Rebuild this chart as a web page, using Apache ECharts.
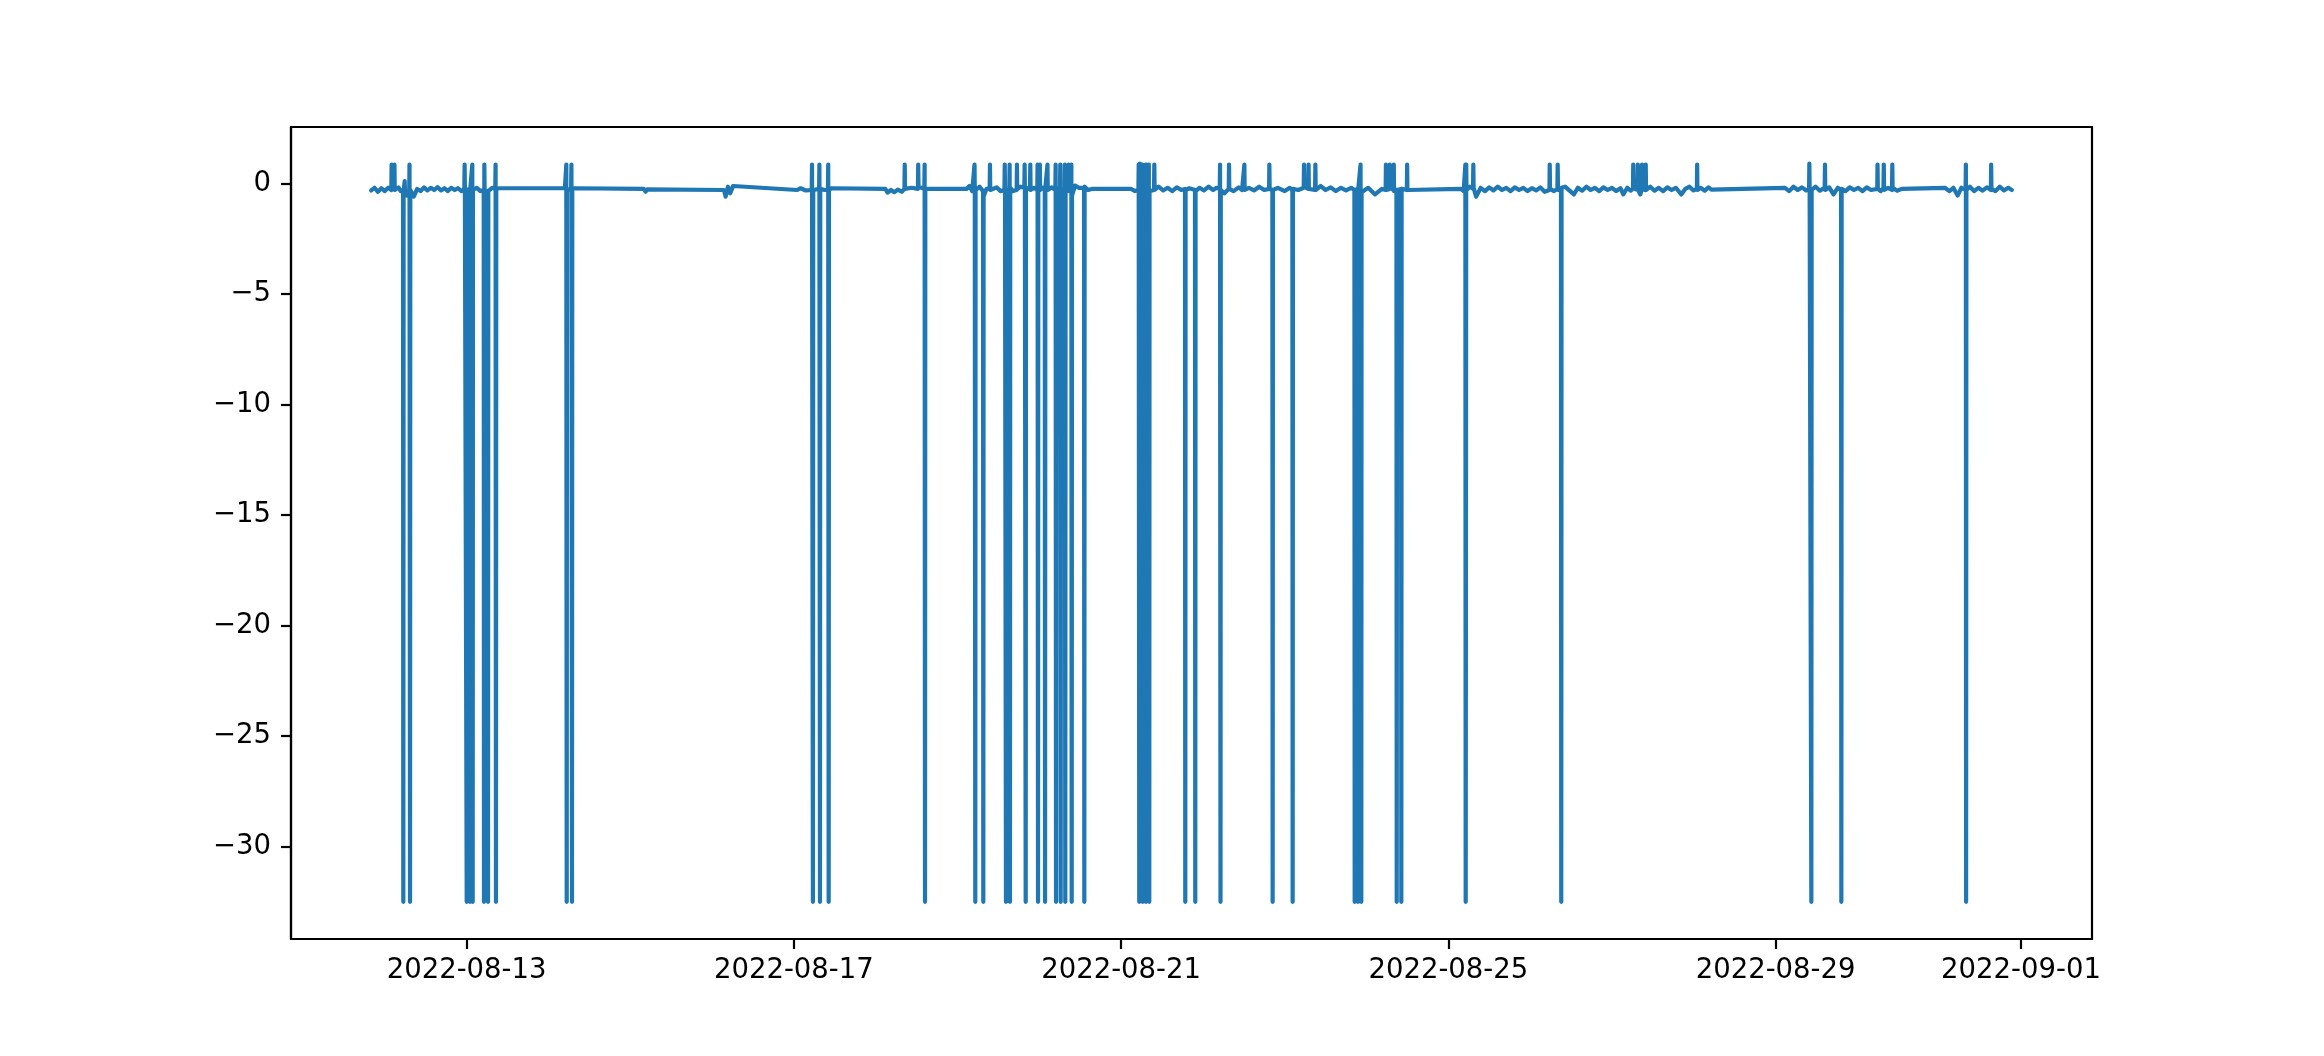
<!DOCTYPE html>
<html>
<head>
<meta charset="utf-8">
<title>readings</title>
<script src="https://cdn.jsdelivr.net/npm/echarts@6.0.0/dist/echarts.min.js"></script>
<style>
  html, body { margin: 0; padding: 0; background: #fff; }
  #chart { width: 2324px; height: 1056px; }
</style>
</head>
<body>
<div id="chart"></div>
<script>
// tick positions
var yTicks = [-30, -25, -20, -15, -10, -5, 0];
var xTickDates = ['2022-08-13 00:00', '2022-08-17 00:00', '2022-08-21 00:00', '2022-08-25 00:00', '2022-08-29 00:00', '2022-09-01 00:00'];
var xRange = ['2022-08-10 20:29', '2022-09-01 20:50'];
var yRange = [-34.18, 2.55];

// readings [time, value]
var readings = [
  // 08-11 .. 08-13
  ['2022-08-11 20:00', -0.32], ['2022-08-11 21:00', -0.2], ['2022-08-11 22:00', -0.38], ['2022-08-11 23:00', -0.22],
  ['2022-08-12 00:00', -0.35], ['2022-08-12 01:00', -0.2],
  ['2022-08-12 01:55', -0.3], ['2022-08-12 02:00', 0.85], ['2022-08-12 02:05', -0.25],
  ['2022-08-12 02:45', -0.28], ['2022-08-12 02:50', 0.85], ['2022-08-12 02:55', -0.3],
  ['2022-08-12 04:00', -0.18], ['2022-08-12 04:40', -0.35],
  ['2022-08-12 05:21', -0.3], ['2022-08-12 05:26', -32.5], ['2022-08-12 05:31', -0.35],
  ['2022-08-12 05:45', -0.3], ['2022-08-12 05:50', 0.1], ['2022-08-12 05:55', -0.3],
  ['2022-08-12 06:30', -0.55],
  ['2022-08-12 07:10', -0.3], ['2022-08-12 07:15', 0.85], ['2022-08-12 07:24', -32.5], ['2022-08-12 07:29', -0.3],
  ['2022-08-12 08:30', -0.6], ['2022-08-12 09:30', -0.25], ['2022-08-12 10:30', -0.35], ['2022-08-12 11:30', -0.18],
  ['2022-08-12 12:30', -0.32], ['2022-08-12 13:30', -0.2], ['2022-08-12 14:30', -0.3], ['2022-08-12 15:30', -0.17],
  ['2022-08-12 16:30', -0.32], ['2022-08-12 17:30', -0.22], ['2022-08-12 18:30', -0.35], ['2022-08-12 19:30', -0.2],
  ['2022-08-12 20:30', -0.3], ['2022-08-12 21:30', -0.22], ['2022-08-12 22:30', -0.35],
  ['2022-08-12 23:20', -0.25], ['2022-08-12 23:25', 0.85], ['2022-08-12 23:30', -0.3],
  ['2022-08-12 23:57', -0.3], ['2022-08-13 00:02', -32.5], ['2022-08-13 00:07', -0.3],
  ['2022-08-13 00:55', -0.25], ['2022-08-13 01:00', -32.5], ['2022-08-13 01:05', -0.25],
  ['2022-08-13 01:35', -0.3], ['2022-08-13 01:40', 0.85], ['2022-08-13 01:47', -32.5], ['2022-08-13 01:52', -0.3],
  ['2022-08-13 03:00', -0.2], ['2022-08-13 04:00', -0.35],
  ['2022-08-13 05:01', -0.3], ['2022-08-13 05:06', -32.5], ['2022-08-13 05:12', 0.85], ['2022-08-13 05:17', -0.3],
  ['2022-08-13 06:12', -0.35], ['2022-08-13 06:17', -32.5], ['2022-08-13 06:22', -0.35],
  ['2022-08-13 07:30', -0.2],
  ['2022-08-13 08:25', -0.25], ['2022-08-13 08:30', 0.85], ['2022-08-13 08:37', -32.5], ['2022-08-13 08:42', -0.25],
  ['2022-08-13 09:30', -0.22],
  // 08-14
  ['2022-08-14 04:50', -0.22], ['2022-08-14 05:10', -0.3], ['2022-08-14 05:15', 0.85], ['2022-08-14 05:22', -32.5],
  ['2022-08-14 05:27', -0.3], ['2022-08-14 06:40', -0.25], ['2022-08-14 06:45', 0.85], ['2022-08-14 06:55', -32.5],
  ['2022-08-14 07:00', -0.25], ['2022-08-14 07:40', -0.22],
  // 08-15, 08-16 small blobs
  ['2022-08-15 04:00', -0.25], ['2022-08-15 04:30', -0.38], ['2022-08-15 05:00', -0.27],
  ['2022-08-16 03:30', -0.3], ['2022-08-16 04:00', -0.6], ['2022-08-16 04:40', -0.15], ['2022-08-16 05:20', -0.45],
  ['2022-08-16 06:10', -0.12],
  // 08-17
  ['2022-08-17 01:00', -0.3], ['2022-08-17 02:00', -0.22], ['2022-08-17 03:30', -0.32],
  ['2022-08-17 05:15', -0.3], ['2022-08-17 05:20', 0.85], ['2022-08-17 05:36', -32.5], ['2022-08-17 05:41', -0.3],
  ['2022-08-17 07:25', -0.25], ['2022-08-17 07:30', 0.85], ['2022-08-17 07:40', -32.5], ['2022-08-17 07:45', -0.25],
  ['2022-08-17 09:00', -0.3],
  ['2022-08-17 10:00', -0.3], ['2022-08-17 10:05', 0.85], ['2022-08-17 10:13', -32.5], ['2022-08-17 10:18', -0.3],
  ['2022-08-17 11:00', -0.22],
  // 08-18
  ['2022-08-18 02:50', -0.25], ['2022-08-18 03:30', -0.42], ['2022-08-18 04:30', -0.3], ['2022-08-18 05:30', -0.4],
  ['2022-08-18 06:30', -0.28], ['2022-08-18 07:40', -0.38],
  ['2022-08-18 08:27', -0.25], ['2022-08-18 08:32', 0.85], ['2022-08-18 08:37', -0.25],
  ['2022-08-18 10:30', -0.2],
  ['2022-08-18 12:24', -0.25], ['2022-08-18 12:29', 0.85], ['2022-08-18 12:34', -0.15],
  ['2022-08-18 14:17', -0.25], ['2022-08-18 14:22', 0.85], ['2022-08-18 14:29', -32.5], ['2022-08-18 14:34', -0.25],
  ['2022-08-18 15:00', -0.22],
  // 08-19 .. 08-20
  ['2022-08-19 02:40', -0.25], ['2022-08-19 03:30', -0.12], ['2022-08-19 04:20', -0.35],
  ['2022-08-19 04:55', -0.3], ['2022-08-19 05:00', 0.85], ['2022-08-19 05:05', -0.3],
  ['2022-08-19 05:09', -0.3], ['2022-08-19 05:14', -32.5], ['2022-08-19 05:19', -0.3],
  ['2022-08-19 06:30', -0.15],
  ['2022-08-19 07:30', -0.35], ['2022-08-19 07:35', -32.5], ['2022-08-19 07:40', -0.6],
  ['2022-08-19 08:30', -0.25],
  ['2022-08-19 09:27', -0.2], ['2022-08-19 09:32', 0.85], ['2022-08-19 09:37', -0.3],
  ['2022-08-19 11:30', -0.18], ['2022-08-19 12:40', -0.35],
  ['2022-08-19 13:47', -0.3], ['2022-08-19 13:52', 0.85], ['2022-08-19 13:57', -0.25],
  ['2022-08-19 14:09', -0.25], ['2022-08-19 14:14', -32.5], ['2022-08-19 14:19', -0.3],
  ['2022-08-19 15:13', -0.3], ['2022-08-19 15:18', 0.85], ['2022-08-19 15:24', -32.5], ['2022-08-19 15:29', -0.2],
  ['2022-08-19 16:20', -0.35],
  ['2022-08-19 17:22', -0.3], ['2022-08-19 17:27', 0.85], ['2022-08-19 17:32', -0.25],
  ['2022-08-19 18:30', -0.15],
  ['2022-08-19 19:37', -0.2], ['2022-08-19 19:42', 0.85], ['2022-08-19 19:47', -0.25],
  ['2022-08-19 19:56', -0.25], ['2022-08-19 20:01', -32.5], ['2022-08-19 20:06', -0.3],
  ['2022-08-19 21:17', -0.15], ['2022-08-19 21:22', 0.85], ['2022-08-19 21:27', -0.3],
  ['2022-08-19 22:30', -0.2],
  ['2022-08-19 23:25', -0.3], ['2022-08-19 23:30', 0.85], ['2022-08-19 23:38', -32.5], ['2022-08-19 23:43', -0.25],
  ['2022-08-20 00:05', -0.25], ['2022-08-20 00:10', 0.85], ['2022-08-20 00:15', -0.3],
  ['2022-08-20 01:00', -0.2],
  ['2022-08-20 01:37', -0.3], ['2022-08-20 01:42', -32.5], ['2022-08-20 01:47', -0.2],
  ['2022-08-20 02:19', -0.25], ['2022-08-20 02:24', 0.85], ['2022-08-20 02:29', -0.3],
  ['2022-08-20 03:40', -0.18],
  ['2022-08-20 04:43', -0.3], ['2022-08-20 04:48', 0.85], ['2022-08-20 04:55', -32.5], ['2022-08-20 05:00', -0.25],
  ['2022-08-20 06:05', -0.2], ['2022-08-20 06:10', 0.85], ['2022-08-20 06:17', -32.5], ['2022-08-20 06:22', -0.3],
  ['2022-08-20 07:25', -0.25], ['2022-08-20 07:30', 0.85], ['2022-08-20 07:38', -32.5], ['2022-08-20 07:43', -0.2],
  ['2022-08-20 08:31', -0.3], ['2022-08-20 08:36', 0.85], ['2022-08-20 08:41', -0.35],
  ['2022-08-20 09:20', -0.25], ['2022-08-20 09:25', 0.85], ['2022-08-20 09:31', -32.5], ['2022-08-20 09:36', -0.55],
  ['2022-08-20 10:30', -0.1], ['2022-08-20 11:40', -0.2],
  ['2022-08-20 13:08', -0.2], ['2022-08-20 13:13', -32.5], ['2022-08-20 13:18', -0.15],
  ['2022-08-20 14:20', -0.3], ['2022-08-20 15:20', -0.25],
  // 08-21 .. 08-24
  ['2022-08-21 03:00', -0.25], ['2022-08-21 04:00', -0.35],
  ['2022-08-21 05:05', -0.3], ['2022-08-21 05:10', 0.85], ['2022-08-21 05:20', -32.5], ['2022-08-21 05:30', 0.9],
  ['2022-08-21 05:35', -0.3],
  ['2022-08-21 06:05', -0.3], ['2022-08-21 06:10', 0.85], ['2022-08-21 06:20', -32.5], ['2022-08-21 06:25', -0.4],
  ['2022-08-21 07:05', -0.3], ['2022-08-21 07:10', 0.85], ['2022-08-21 07:18', -32.5], ['2022-08-21 07:26', 0.85],
  ['2022-08-21 07:31', -0.3],
  ['2022-08-21 08:03', -0.3], ['2022-08-21 08:08', 0.85], ['2022-08-21 08:16', -32.5], ['2022-08-21 08:21', -0.35],
  ['2022-08-21 09:40', -0.3], ['2022-08-21 09:45', 0.85], ['2022-08-21 09:50', -0.3],
  ['2022-08-21 11:00', -0.15], ['2022-08-21 12:20', -0.32], ['2022-08-21 13:40', -0.2], ['2022-08-21 15:00', -0.35],
  ['2022-08-21 16:20', -0.18], ['2022-08-21 17:40', -0.3],
  ['2022-08-21 18:45', -0.25], ['2022-08-21 18:50', -32.5], ['2022-08-21 18:55', -0.3],
  ['2022-08-21 20:00', -0.22],
  ['2022-08-21 21:41', -0.3], ['2022-08-21 21:46', -32.5], ['2022-08-21 21:51', -0.35],
  ['2022-08-21 23:00', -0.2], ['2022-08-22 00:20', -0.32], ['2022-08-22 01:40', -0.15], ['2022-08-22 03:00', -0.3],
  ['2022-08-22 04:00', -0.2],
  ['2022-08-22 04:57', -0.25], ['2022-08-22 05:02', 0.85], ['2022-08-22 05:10', -32.5], ['2022-08-22 05:15', -0.3],
  ['2022-08-22 06:20', -0.45],
  ['2022-08-22 07:35', -0.25], ['2022-08-22 07:40', 0.85], ['2022-08-22 07:45', -0.25],
  ['2022-08-22 09:00', -0.35], ['2022-08-22 10:30', -0.18], ['2022-08-22 11:30', -0.3],
  ['2022-08-22 12:05', -0.25], ['2022-08-22 12:10', 0.85], ['2022-08-22 12:15', -0.3],
  ['2022-08-22 13:30', -0.2], ['2022-08-22 15:00', -0.32], ['2022-08-22 16:30', -0.15], ['2022-08-22 18:00', -0.3],
  ['2022-08-22 19:25', -0.25], ['2022-08-22 19:30', 0.85], ['2022-08-22 19:35', -0.25],
  ['2022-08-22 20:23', -0.3], ['2022-08-22 20:28', -32.5], ['2022-08-22 20:33', -0.3],
  ['2022-08-22 22:00', -0.2], ['2022-08-23 00:00', -0.35], ['2022-08-23 01:30', -0.2],
  ['2022-08-23 02:15', -0.3], ['2022-08-23 02:20', -32.5], ['2022-08-23 02:25', -0.25],
  ['2022-08-23 04:00', -0.3],
  ['2022-08-23 05:35', -0.2], ['2022-08-23 05:40', 0.85], ['2022-08-23 05:45', -0.15],
  ['2022-08-23 06:55', -0.25], ['2022-08-23 07:00', 0.85], ['2022-08-23 07:05', -0.25],
  ['2022-08-23 08:55', -0.3], ['2022-08-23 09:00', 0.85], ['2022-08-23 09:05', -0.3],
  ['2022-08-23 10:30', -0.12], ['2022-08-23 12:00', -0.3], ['2022-08-23 13:30', -0.18], ['2022-08-23 15:00', -0.35],
  ['2022-08-23 16:30', -0.2], ['2022-08-23 18:00', -0.32], ['2022-08-23 19:30', -0.2],
  ['2022-08-23 20:27', -0.3], ['2022-08-23 20:32', -32.5], ['2022-08-23 20:37', -0.3],
  ['2022-08-23 21:25', -0.25], ['2022-08-23 21:30', -32.5], ['2022-08-23 21:35', -0.25],
  ['2022-08-23 22:10', -0.3], ['2022-08-23 22:15', 0.85], ['2022-08-23 22:28', -32.5], ['2022-08-23 22:33', -0.4],
  ['2022-08-24 00:30', -0.2], ['2022-08-24 02:30', -0.5], ['2022-08-24 04:30', -0.25],
  ['2022-08-24 05:37', -0.3], ['2022-08-24 05:42', 0.85], ['2022-08-24 05:47', -0.3],
  ['2022-08-24 06:45', -0.25], ['2022-08-24 06:50', 0.85], ['2022-08-24 06:55', -0.2],
  ['2022-08-24 07:55', -0.3], ['2022-08-24 08:00', 0.85], ['2022-08-24 08:05', -0.35],
  ['2022-08-24 08:47', -0.3], ['2022-08-24 08:52', -32.5], ['2022-08-24 08:57', -0.3],
  ['2022-08-24 10:08', -0.25], ['2022-08-24 10:13', -32.5], ['2022-08-24 10:18', -0.25],
  ['2022-08-24 11:50', -0.3], ['2022-08-24 11:55', 0.85], ['2022-08-24 12:00', -0.3],
  ['2022-08-24 12:30', -0.25],
  // 08-25 .. 08-28
  ['2022-08-25 03:40', -0.25], ['2022-08-25 04:30', -0.35],
  ['2022-08-25 04:55', -0.3], ['2022-08-25 05:00', 0.85], ['2022-08-25 05:06', -32.5], ['2022-08-25 05:15', 0.85],
  ['2022-08-25 05:20', -0.3], ['2022-08-25 06:20', -0.15],
  ['2022-08-25 07:15', -0.25], ['2022-08-25 07:20', 0.85], ['2022-08-25 07:25', -0.2],
  ['2022-08-25 08:10', -0.6], ['2022-08-25 09:30', -0.2], ['2022-08-25 10:45', -0.35], ['2022-08-25 12:00', -0.18],
  ['2022-08-25 13:15', -0.32], ['2022-08-25 14:30', -0.15], ['2022-08-25 15:45', -0.3], ['2022-08-25 17:00', -0.2],
  ['2022-08-25 18:15', -0.35], ['2022-08-25 19:30', -0.18], ['2022-08-25 20:45', -0.3], ['2022-08-25 22:00', -0.2],
  ['2022-08-25 23:15', -0.35], ['2022-08-26 00:30', -0.22], ['2022-08-26 01:45', -0.32], ['2022-08-26 03:00', -0.18],
  ['2022-08-26 04:15', -0.38],
  ['2022-08-26 05:40', -0.3], ['2022-08-26 05:45', 0.85], ['2022-08-26 05:50', -0.25],
  ['2022-08-26 07:00', -0.35],
  ['2022-08-26 08:00', -0.25], ['2022-08-26 08:05', 0.85], ['2022-08-26 08:10', -0.3],
  ['2022-08-26 09:03', -0.3], ['2022-08-26 09:08', -32.5], ['2022-08-26 09:13', -0.2],
  ['2022-08-26 10:15', -0.15], ['2022-08-26 11:30', -0.32], ['2022-08-26 12:50', -0.5], ['2022-08-26 14:00', -0.2],
  ['2022-08-26 15:15', -0.33], ['2022-08-26 16:30', -0.15], ['2022-08-26 17:45', -0.3], ['2022-08-26 19:00', -0.2],
  ['2022-08-26 20:15', -0.35], ['2022-08-26 21:30', -0.18], ['2022-08-26 22:45', -0.3], ['2022-08-27 00:00', -0.2],
  ['2022-08-27 01:15', -0.35], ['2022-08-27 02:30', -0.22], ['2022-08-27 03:20', -0.5], ['2022-08-27 04:30', -0.2],
  ['2022-08-27 05:30', -0.33],
  ['2022-08-27 06:10', -0.25], ['2022-08-27 06:15', 0.85], ['2022-08-27 06:20', -0.2],
  ['2022-08-27 07:30', -0.3], ['2022-08-27 07:35', 0.85], ['2022-08-27 07:40', -0.3],
  ['2022-08-27 08:20', -0.5],
  ['2022-08-27 08:45', -0.25], ['2022-08-27 08:50', 0.85], ['2022-08-27 08:55', -0.25],
  ['2022-08-27 09:50', -0.3], ['2022-08-27 09:55', 0.85], ['2022-08-27 10:00', -0.3],
  ['2022-08-27 11:15', -0.15], ['2022-08-27 12:30', -0.33], ['2022-08-27 13:45', -0.2], ['2022-08-27 15:00', -0.35],
  ['2022-08-27 16:15', -0.18], ['2022-08-27 17:30', -0.3], ['2022-08-27 18:45', -0.2], ['2022-08-27 20:20', -0.5],
  ['2022-08-27 21:30', -0.25], ['2022-08-27 22:45', -0.15], ['2022-08-27 23:55', -0.32],
  ['2022-08-28 00:55', -0.25], ['2022-08-28 01:00', 0.85], ['2022-08-28 01:05', -0.3],
  ['2022-08-28 02:00', -0.2], ['2022-08-28 03:15', -0.33], ['2022-08-28 04:20', -0.18], ['2022-08-28 05:10', -0.28],
  // 08-29 .. 08-31
  ['2022-08-29 02:45', -0.2], ['2022-08-29 04:00', -0.35], ['2022-08-29 05:15', -0.15], ['2022-08-29 06:30', -0.3],
  ['2022-08-29 07:45', -0.18], ['2022-08-29 09:00', -0.32],
  ['2022-08-29 09:50', -0.25], ['2022-08-29 09:55', 0.9], ['2022-08-29 10:00', -0.25],
  ['2022-08-29 10:25', -0.3], ['2022-08-29 10:30', -32.5], ['2022-08-29 10:35', -0.3],
  ['2022-08-29 11:45', -0.15], ['2022-08-29 13:00', -0.33],
  ['2022-08-29 14:25', -0.2], ['2022-08-29 14:30', 0.85], ['2022-08-29 14:35', -0.3],
  ['2022-08-29 15:45', -0.18], ['2022-08-29 17:00', -0.5], ['2022-08-29 18:15', -0.2],
  ['2022-08-29 19:13', -0.3], ['2022-08-29 19:18', -32.5], ['2022-08-29 19:23', -0.25],
  ['2022-08-29 20:30', -0.35], ['2022-08-29 21:45', -0.18], ['2022-08-29 23:00', -0.3], ['2022-08-30 00:15', -0.2],
  ['2022-08-30 01:30', -0.35], ['2022-08-30 02:45', -0.18], ['2022-08-30 04:00', -0.3],
  ['2022-08-30 05:50', -0.25], ['2022-08-30 05:55', 0.85], ['2022-08-30 06:00', -0.25],
  ['2022-08-30 06:50', -0.35],
  ['2022-08-30 07:40', -0.2], ['2022-08-30 07:45', 0.85], ['2022-08-30 07:50', -0.3],
  ['2022-08-30 09:00', -0.2],
  ['2022-08-30 10:10', -0.3], ['2022-08-30 10:15', 0.85], ['2022-08-30 10:20', -0.2],
  ['2022-08-30 11:40', -0.33], ['2022-08-30 13:00', -0.25], ['2022-08-31 01:40', -0.2],
  ['2022-08-31 03:00', -0.35], ['2022-08-31 04:10', -0.2], ['2022-08-31 05:25', -0.55], ['2022-08-31 06:30', -0.2],
  ['2022-08-31 07:45', -0.3], ['2022-08-31 07:50', 0.85], ['2022-08-31 07:54', -32.5], ['2022-08-31 07:59', -0.3],
  ['2022-08-31 09:00', -0.15], ['2022-08-31 10:15', -0.35], ['2022-08-31 11:30', -0.2], ['2022-08-31 12:45', -0.33],
  ['2022-08-31 14:00', -0.18],
  ['2022-08-31 15:10', -0.3], ['2022-08-31 15:15', 0.85], ['2022-08-31 15:20', -0.25],
  ['2022-08-31 16:30', -0.35], ['2022-08-31 17:45', -0.15], ['2022-08-31 19:00', -0.32], ['2022-08-31 20:15', -0.2],
  ['2022-08-31 21:20', -0.3]
];

function pad(n) {
  return n < 10 ? '0' + n : '' + n
}

// 'YYYY-MM-DD HH:MM' -> local timestamp
function toTime(s) {
  return new Date(s.replace(' ', 'T') + ':00').getTime()
}

var chart = echarts.init(document.getElementById('chart'));
var fontFamily = 'DejaVu Sans';
var xTickValues = xTickDates.map(toTime);
var lineData = readings.map(function (r) {
  return [toTime(r[0]), r[1]]
});

var option = {
  animation: false,
  backgroundColor: '#fff',
  grid: {
    left: 291,
    right: 232,
    top: 127,
    bottom: 117,
    show: true,
    borderColor: '#000',
    borderWidth: 2.2,
    backgroundColor: 'transparent'
  },
  xAxis: {
    type: 'value',
    min: toTime(xRange[0]),
    max: toTime(xRange[1]),
    axisLine: {
      show: true,
      onZero: false,
      lineStyle: { color: '#000', width: 2.2 }
    },
    axisTick: {
      show: true,
      inside: false,
      length: 10,
      customValues: xTickValues,
      lineStyle: { color: '#000', width: 2.2 }
    },
    axisLabel: {
      customValues: xTickValues,
      margin: 18,
      color: '#000',
      fontSize: 27.5,
      fontFamily: fontFamily,
      formatter: function (v) {
        var d = new Date(v);
        return d.getFullYear() + '-' + pad(d.getMonth() + 1) + '-' + pad(d.getDate())
      }
    },
    splitLine: { show: false }
  },
  yAxis: {
    type: 'value',
    min: yRange[0],
    max: yRange[1],
    axisLine: {
      show: true,
      onZero: false,
      lineStyle: { color: '#000', width: 2.2 }
    },
    axisTick: {
      show: true,
      inside: false,
      length: 10,
      customValues: yTicks,
      lineStyle: { color: '#000', width: 2.2 }
    },
    axisLabel: {
      customValues: yTicks,
      margin: 20,
      color: '#000',
      fontSize: 27.5,
      fontFamily: fontFamily,
      formatter: function (v) {
        return String(v).replace('-', '\u2212')
      }
    },
    splitLine: { show: false }
  },
  series: [{
    type: 'line',
    data: lineData,
    symbol: 'none',
    showSymbol: false,
    silent: true,
    lineStyle: {
      color: '#1f77b4',
      width: 4.2,
      join: 'round',
      cap: 'round'
    }
  }]
};
chart.setOption(option);
</script>
</body>
</html>
